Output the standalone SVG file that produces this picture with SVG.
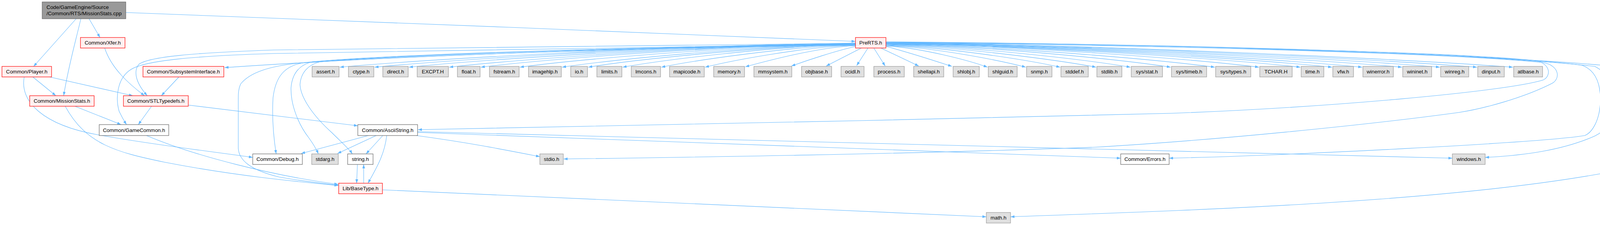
<svg xmlns="http://www.w3.org/2000/svg" width="4195" height="576" viewBox="0 0 4195 576">
<style>
.e{fill:none;stroke:#63b8ff;stroke-width:1.1}
.node rect{stroke-width:1.2}
.red rect{fill:#fff0f0;stroke:#ff0000}
.gray rect{fill:#e0e0e0;stroke:#999999}
.white rect{fill:#ffffff;stroke:#666666}
.main rect{fill:#999999;stroke:#666666}
text{font-family:"Liberation Sans",Arial,Helvetica,sans-serif;font-size:13.33px;fill:#000000}
.c{text-anchor:middle}
</style>
<defs>
<marker id="arr" viewBox="0 0 10 7" refX="10" refY="3.5" markerWidth="10" markerHeight="7" markerUnits="userSpaceOnUse" orient="auto"><path d="M0,0L10,3.5L0,7z" fill="#63b8ff"/></marker>
</defs>
<rect width="4195" height="576" fill="#ffffff"/>
<g id="edges">
<path class="e" marker-end="url(#arr)" d="M195,48 L86,170"/>
<path class="e" marker-end="url(#arr)" d="M207,48 C195,100 175,170 163,245"/>
<path class="e" marker-end="url(#arr)" d="M228,48 L256,96"/>
<path class="e" marker-end="url(#arr)" d="M322,32 C900,55 1600,80 2190,106"/>
<path class="e" marker-end="url(#arr)" d="M268,123 C285,175 330,215 370,245"/>
<path class="e" marker-end="url(#arr)" d="M2190,110 C1500,125 900,150 575,173"/>
<path class="e" marker-end="url(#arr)" d="M458,197 L413,245"/>
<path class="e" marker-end="url(#arr)" d="M84,197 L143,245"/>
<path class="e" marker-end="url(#arr)" d="M127,197 L340,245"/>
<path class="e" marker-end="url(#arr)" d="M62,197 C50,260 110,320 250,345 C400,372 560,390 647,403"/>
<path class="e" marker-end="url(#arr)" d="M192,272 L310,319"/>
<path class="e" marker-end="url(#arr)" d="M167,272 C220,370 300,390 420,415 C600,450 760,465 866,475"/>
<path class="e" marker-end="url(#arr)" d="M388,272 L354,319"/>
<path class="e" marker-end="url(#arr)" d="M482,269 L916,322"/>
<path class="e" marker-end="url(#arr)" d="M375,347 C500,400 700,450 866,472"/>
<path class="e" marker-end="url(#arr)" d="M2190,111 C1600,114 1000,120 700,128 C500,135 380,145 355,165 C340,185 350,215 377,245"/>
<path class="e" marker-end="url(#arr)" d="M2190,113 C1600,118 1000,128 700,137 C500,143 370,155 335,178 C300,200 295,250 305,285 C312,300 318,310 324,319"/>
<path class="e" marker-end="url(#arr)" d="M2190,116 C1600,122 1000,145 760,162 C690,170 640,185 616,215 C610,228 610,240 610,255 L610,380 C612,410 640,435 714,453 C780,465 830,470 866,474"/>
<path class="e" marker-end="url(#arr)" d="M2190,115 C1600,121 1000,140 780,160 C725,168 705,200 699,250 C696,300 700,350 707,394"/>
<path class="e" marker-end="url(#arr)" d="M2190,114 C1600,120 1000,140 800,158 C770,165 748,185 745,225 C744,270 765,320 790,352 C803,370 810,382 815,394"/>
<path class="e" marker-end="url(#arr)" d="M2190,114 C1600,120 1050,140 820,158 C790,165 770,185 768,217 C770,250 800,295 850,340 C875,365 893,380 902,394"/>
<path class="e" marker-end="url(#arr)" d="M943,347 L771,393"/>
<path class="e" marker-end="url(#arr)" d="M963,347 L864,393"/>
<path class="e" marker-end="url(#arr)" d="M980,347 L937,394"/>
<path class="e" marker-end="url(#arr)" d="M990,347 C985,390 970,420 942,469"/>
<path class="e" marker-end="url(#arr)" d="M1066,347 C1200,365 1300,385 1382,401"/>
<path class="e" marker-end="url(#arr)" d="M1069,339 L2869,405"/>
<path class="e" marker-end="url(#arr)" d="M1069,337 L3718,405"/>
<path class="e" marker-end="url(#arr)" d="M915,421 L913,469"/>
<path class="e" marker-end="url(#arr)" d="M931,469 L931,421"/>
<path class="e" marker-end="url(#arr)" d="M979,486 L2525,555"/>
<path class="e" marker-end="url(#arr)" d="M2268,109 C2900,112 3700,132 3930,155 C3970,162 3972,195 3950,205 C3850,235 3400,275 3000,290 C2400,305 1500,325 1070,332"/>
<path class="e" marker-end="url(#arr)" d="M2268,110 C2900,114 3700,135 3950,160 C3995,168 3995,205 3970,215 C3900,250 3800,278 3734,288 C3500,320 3100,360 2800,377 C2300,395 1800,402 1443,407"/>
<path class="e" marker-end="url(#arr)" d="M2268,108 C3000,112 3800,135 4050,167 C4085,180 4098,215 4097,260 C4095,310 4075,340 4057,347 C3950,365 3300,398 2993,405"/>
<path class="e" marker-end="url(#arr)" d="M2268,108 C3000,112 3800,138 4083,170 C4120,190 4132,220 4132,255 C4130,310 4110,335 4083,348 C4000,385 3900,398 3802,403"/>
<path class="e" marker-end="url(#arr)" d="M2268,107 C3000,112 3800,140 4113,168 C4160,182 4188,205 4188,250 L4190,410 C4188,418 4180,420 4123,440 C3700,520 3000,540 2587,555"/>
<path class="e" marker-end="url(#arr)" d="M2190,111 C1728,115 1094,152 870,172"/>
<path class="e" marker-end="url(#arr)" d="M2190,111 C1759,115 1168,152 959,172"/>
<path class="e" marker-end="url(#arr)" d="M2190,112 C1790,116 1241,152 1047,172"/>
<path class="e" marker-end="url(#arr)" d="M2190,112 C1826,116 1327,152 1150,172"/>
<path class="e" marker-end="url(#arr)" d="M2190,112 C1854,116 1394,152 1231,172"/>
<path class="e" marker-end="url(#arr)" d="M2190,113 C1889,117 1477,152 1331,172"/>
<path class="e" marker-end="url(#arr)" d="M2190,113 C1927,117 1567,153 1439,172"/>
<path class="e" marker-end="url(#arr)" d="M2190,114 C1951,118 1622,153 1506,172"/>
<path class="e" marker-end="url(#arr)" d="M2190,114 C1981,118 1695,154 1594,172"/>
<path class="e" marker-end="url(#arr)" d="M2190,115 C2016,119 1777,155 1693,172"/>
<path class="e" marker-end="url(#arr)" d="M2190,116 C2055,120 1870,156 1805,172"/>
<path class="e" marker-end="url(#arr)" d="M2190,117 C2091,121 1956,158 1908,171"/>
<path class="e" marker-end="url(#arr)" d="M2190,119 C2140,130 2065,155 2026,169"/>
<path class="e" marker-end="url(#arr)" d="M2205,123 L2115,169"/>
<path class="e" marker-end="url(#arr)" d="M2222,123 L2193,168"/>
<path class="e" marker-end="url(#arr)" d="M2237,123 L2266,169"/>
<path class="e" marker-end="url(#arr)" d="M2255,123 L2352,169"/>
<path class="e" marker-end="url(#arr)" d="M2269,119 C2330,135 2400,158 2437,170"/>
<path class="e" marker-end="url(#arr)" d="M2268,118 C2359,122 2484,156 2528,172"/>
<path class="e" marker-end="url(#arr)" d="M2268,117 C2393,121 2565,156 2626,172"/>
<path class="e" marker-end="url(#arr)" d="M2268,116 C2424,120 2638,155 2714,172"/>
<path class="e" marker-end="url(#arr)" d="M2268,115 C2456,119 2715,155 2806,172"/>
<path class="e" marker-end="url(#arr)" d="M2268,114 C2487,118 2788,154 2894,172"/>
<path class="e" marker-end="url(#arr)" d="M2268,113 C2523,117 2873,153 2997,172"/>
<path class="e" marker-end="url(#arr)" d="M2268,113 C2563,117 2967,153 3110,172"/>
<path class="e" marker-end="url(#arr)" d="M2268,112 C2602,116 3061,152 3223,172"/>
<path class="e" marker-end="url(#arr)" d="M2268,112 C2639,116 3149,152 3329,172"/>
<path class="e" marker-end="url(#arr)" d="M2268,112 C2668,116 3216,152 3410,172"/>
<path class="e" marker-end="url(#arr)" d="M2268,111 C2695,115 3280,152 3487,172"/>
<path class="e" marker-end="url(#arr)" d="M2268,111 C2730,115 3364,152 3589,172"/>
<path class="e" marker-end="url(#arr)" d="M2268,111 C2764,115 3445,152 3686,172"/>
<path class="e" marker-end="url(#arr)" d="M2268,110 C2798,114 3524,152 3781,172"/>
<path class="e" marker-end="url(#arr)" d="M2268,110 C2830,114 3600,152 3873,172"/>
</g>
<g id="n_main" class="node main"><rect x="108" y="5" width="214" height="43"/><text x="119" y="23">Code/GameEngine/Source</text><text x="119" y="39">/Common/RTS/MissionStats.cpp</text></g>
<g id="n_xfer" class="node red"><rect x="206" y="96" width="114" height="27"/><text class="c" x="263" y="114">Common/Xfer.h</text></g>
<g id="n_prerts" class="node red"><rect x="2190" y="96" width="78" height="27"/><text class="c" x="2229" y="114">PreRTS.h</text></g>
<g id="n_player" class="node red"><rect x="5" y="170" width="127" height="27"/><text class="c" x="68.5" y="188">Common/Player.h</text></g>
<g id="n_subsys" class="node red"><rect x="366" y="170" width="207" height="27"/><text class="c" x="469.5" y="188">Common/SubsystemInterface.h</text></g>
<g id="n_assert" class="node gray"><rect x="799" y="170" width="69" height="27"/><text class="c" x="833.5" y="188">assert.h</text></g>
<g id="n_ctype" class="node gray"><rect x="892" y="170" width="65" height="27"/><text class="c" x="924.5" y="188">ctype.h</text></g>
<g id="n_direct" class="node gray"><rect x="980" y="170" width="65" height="27"/><text class="c" x="1012.5" y="188">direct.h</text></g>
<g id="n_excpt" class="node gray"><rect x="1068" y="170" width="80" height="27"/><text class="c" x="1108" y="188">EXCPT.H</text></g>
<g id="n_float" class="node gray"><rect x="1171" y="170" width="58" height="27"/><text class="c" x="1200" y="188">float.h</text></g>
<g id="n_fstream" class="node gray"><rect x="1253" y="170" width="76" height="27"/><text class="c" x="1291" y="188">fstream.h</text></g>
<g id="n_imagehlp" class="node gray"><rect x="1353" y="170" width="84" height="27"/><text class="c" x="1395" y="188">imagehlp.h</text></g>
<g id="n_io" class="node gray"><rect x="1461" y="170" width="43" height="27"/><text class="c" x="1482.5" y="188">io.h</text></g>
<g id="n_limits" class="node gray"><rect x="1528" y="170" width="64" height="27"/><text class="c" x="1560" y="188">limits.h</text></g>
<g id="n_lmcons" class="node gray"><rect x="1616" y="170" width="75" height="27"/><text class="c" x="1653.5" y="188">lmcons.h</text></g>
<g id="n_mapicode" class="node gray"><rect x="1714" y="170" width="89" height="27"/><text class="c" x="1758.5" y="188">mapicode.h</text></g>
<g id="n_memory" class="node gray"><rect x="1827" y="170" width="79" height="27"/><text class="c" x="1866.5" y="188">memory.h</text></g>
<g id="n_mmsystem" class="node gray"><rect x="1930" y="170" width="97" height="27"/><text class="c" x="1978.5" y="188">mmsystem.h</text></g>
<g id="n_objbase" class="node gray"><rect x="2052" y="170" width="77" height="27"/><text class="c" x="2090.5" y="188">objbase.h</text></g>
<g id="n_ocidl" class="node gray"><rect x="2153" y="170" width="59" height="27"/><text class="c" x="2182.5" y="188">ocidl.h</text></g>
<g id="n_process" class="node gray"><rect x="2237" y="170" width="78" height="27"/><text class="c" x="2276" y="188">process.h</text></g>
<g id="n_shellapi" class="node gray"><rect x="2339" y="170" width="77" height="27"/><text class="c" x="2377.5" y="188">shellapi.h</text></g>
<g id="n_shlobj" class="node gray"><rect x="2440" y="170" width="67" height="27"/><text class="c" x="2473.5" y="188">shlobj.h</text></g>
<g id="n_shlguid" class="node gray"><rect x="2530" y="170" width="74" height="27"/><text class="c" x="2567" y="188">shlguid.h</text></g>
<g id="n_snmp" class="node gray"><rect x="2628" y="170" width="65" height="27"/><text class="c" x="2660.5" y="188">snmp.h</text></g>
<g id="n_stddef" class="node gray"><rect x="2716" y="170" width="70" height="27"/><text class="c" x="2751" y="188">stddef.h</text></g>
<g id="n_stdlib" class="node gray"><rect x="2808" y="170" width="64" height="27"/><text class="c" x="2840" y="188">stdlib.h</text></g>
<g id="n_sysstat" class="node gray"><rect x="2896" y="170" width="80" height="27"/><text class="c" x="2936" y="188">sys/stat.h</text></g>
<g id="n_systimeb" class="node gray"><rect x="2999" y="170" width="90" height="27"/><text class="c" x="3044" y="188">sys/timeb.h</text></g>
<g id="n_systypes" class="node gray"><rect x="3112" y="170" width="90" height="27"/><text class="c" x="3157" y="188">sys/types.h</text></g>
<g id="n_tchar" class="node gray"><rect x="3225" y="170" width="83" height="27"/><text class="c" x="3266.5" y="188">TCHAR.H</text></g>
<g id="n_time" class="node gray"><rect x="3331" y="170" width="58" height="27"/><text class="c" x="3360" y="188">time.h</text></g>
<g id="n_vfw" class="node gray"><rect x="3412" y="170" width="53" height="27"/><text class="c" x="3438.5" y="188">vfw.h</text></g>
<g id="n_winerror" class="node gray"><rect x="3489" y="170" width="78" height="27"/><text class="c" x="3528" y="188">winerror.h</text></g>
<g id="n_wininet" class="node gray"><rect x="3591" y="170" width="74" height="27"/><text class="c" x="3628" y="188">wininet.h</text></g>
<g id="n_winreg" class="node gray"><rect x="3688" y="170" width="72" height="27"/><text class="c" x="3724" y="188">winreg.h</text></g>
<g id="n_dinput" class="node gray"><rect x="3783" y="170" width="68" height="27"/><text class="c" x="3817" y="188">dinput.h</text></g>
<g id="n_atlbase" class="node gray"><rect x="3875" y="170" width="74" height="27"/><text class="c" x="3912" y="188">atlbase.h</text></g>
<g id="n_missionstats" class="node red"><rect x="76" y="245" width="165" height="27"/><text class="c" x="158.5" y="263">Common/MissionStats.h</text></g>
<g id="n_stltypedefs" class="node red"><rect x="316" y="245" width="166" height="27"/><text class="c" x="399" y="263">Common/STLTypedefs.h</text></g>
<g id="n_gamecommon" class="node white"><rect x="254" y="319" width="178" height="28"/><text class="c" x="343" y="337.5">Common/GameCommon.h</text></g>
<g id="n_asciistring" class="node white"><rect x="916" y="319" width="153" height="28"/><text class="c" x="992.5" y="337.5">Common/AsciiString.h</text></g>
<g id="n_debug" class="node white"><rect x="647" y="394" width="127" height="27"/><text class="c" x="710.5" y="412">Common/Debug.h</text></g>
<g id="n_stdarg" class="node gray"><rect x="798" y="394" width="68" height="27"/><text class="c" x="832" y="412">stdarg.h</text></g>
<g id="n_string" class="node white"><rect x="890" y="394" width="65" height="27"/><text class="c" x="922.5" y="412">string.h</text></g>
<g id="n_stdio" class="node gray"><rect x="1382" y="394" width="60" height="27"/><text class="c" x="1412" y="412">stdio.h</text></g>
<g id="n_errors" class="node white"><rect x="2869" y="394" width="124" height="27"/><text class="c" x="2931" y="412">Common/Errors.h</text></g>
<g id="n_windows" class="node gray"><rect x="3718" y="394" width="84" height="27"/><text class="c" x="3760" y="412">windows.h</text></g>
<g id="n_basetype" class="node red"><rect x="867" y="469" width="112" height="27"/><text class="c" x="923" y="487">Lib/BaseType.h</text></g>
<g id="n_math" class="node gray"><rect x="2525" y="544" width="62" height="27"/><text class="c" x="2556" y="562">math.h</text></g>
</svg>
